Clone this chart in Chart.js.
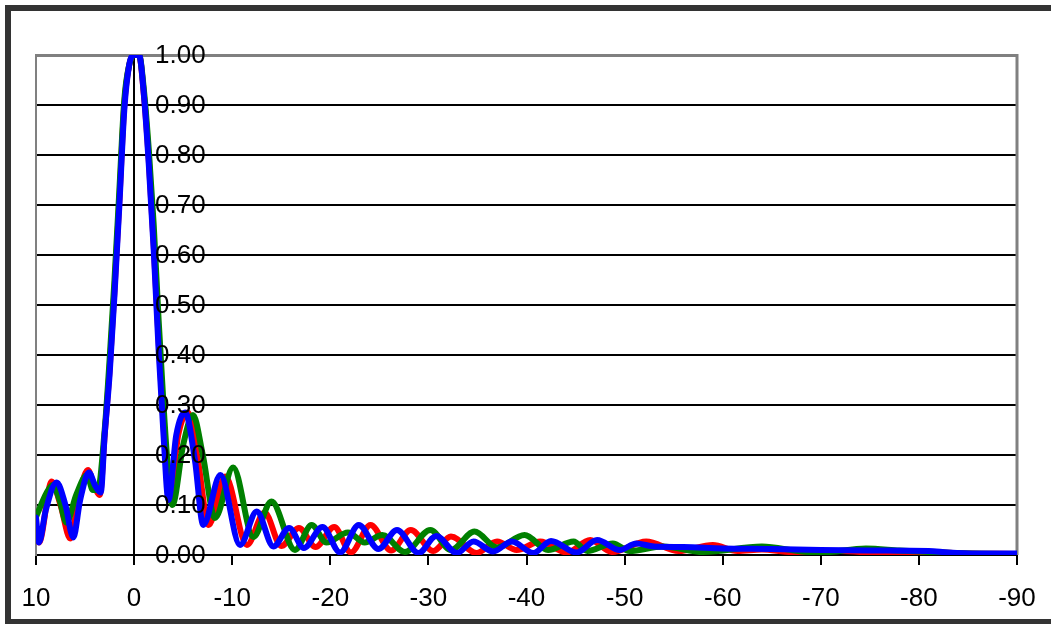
<!DOCTYPE html>
<html>
<head>
<meta charset="utf-8">
<script src="https://cdn.jsdelivr.net/npm/chart.js@4"></script>
<style>
  body { margin: 0; background: #fff; }
  #wrap { position: relative; width: 1051px; height: 624px; }
</style>
</head>
<body>
<div id="wrap"><canvas id="pattern-chart"></canvas></div>
<script>
// tick labels
const xTicks = [10, 0, -10, -20, -30, -40, -50, -60, -70, -80, -90];
const yTicks = [0, 0.1, 0.2, 0.3, 0.4, 0.5, 0.6, 0.7, 0.8, 0.9, 1.0];

// red series (angle, level)
const redX = [10, 9.7, 8.4, 7.5, 6.5, 5.6, 4.7, 4.1, 3.5, 3, 2.5, 2, 1.5, 1, 0.5, 0, -0.5, -1, -1.5, -2, -2.5, -3, -3.6,
  -4.5, -5.5, -6.5, -7.6, -9.3, -11.5, -13.3, -15.0, -16.8, -18.5, -20.4, -22.1, -24.1, -26.2, -28.2, -30.5, -32.3,
  -34.9, -37.0, -39.0, -41.4, -44.1, -46.5, -48.7, -52.2, -55.5, -59, -61.5, -64, -67, -72, -76, -80, -85, -90];
const redY = [0.05, 0.025, 0.147, 0.10, 0.033, 0.12, 0.17, 0.14, 0.12, 0.24, 0.37, 0.53, 0.71, 0.90, 0.98, 1.0, 1.0, 0.92, 0.79, 0.62, 0.43, 0.26, 0.11,
  0.24, 0.285, 0.19, 0.06, 0.157, 0.02, 0.085, 0.018, 0.054, 0.016, 0.056, 0.005, 0.06, 0.009, 0.05, 0.008, 0.037,
  0.004, 0.027, 0.01, 0.027, 0.005, 0.03, 0.006, 0.027, 0.008, 0.02, 0.008, 0.011, 0.006, 0.008, 0.004, 0.006, 0.003, 0.002];

// green series
const greenX = [10, 8.9, 8.3, 7.6, 6.9, 5.9, 4.8, 4.2, 3.7, 3, 2.5, 2, 1.5, 1, 0.5, 0, -0.5, -1, -1.5, -2, -2.5, -3, -3.5, -3.9,
  -5, -6.0, -7, -8.25, -10.1, -12.15, -14.0, -16.4, -18.1, -19.6, -21.8, -23.5, -25.3, -27.6, -30.2, -32.3, -34.7,
  -37.0, -39.8, -42.2, -44.8, -46.2, -48.8, -50.5, -53.9, -58, -64, -68, -70, -74.6, -78, -81, -85, -90];
const greenY = [0.076, 0.125, 0.14, 0.11, 0.065, 0.12, 0.16, 0.13, 0.13, 0.25, 0.39, 0.55, 0.73, 0.91, 0.98, 1.0, 1.0, 0.93, 0.81, 0.66, 0.47, 0.30, 0.16, 0.10,
  0.22, 0.28, 0.20, 0.074, 0.175, 0.036, 0.107, 0.01, 0.06, 0.025, 0.045, 0.025, 0.04, 0.006, 0.05, 0.01, 0.047,
  0.015, 0.04, 0.01, 0.027, 0.008, 0.023, 0.008, 0.017, 0.006, 0.017, 0.007, 0.005, 0.013, 0.009, 0.006, 0.003, 0.002];

// blue series
const blueX = [10, 9.7, 9, 7.9, 7, 6.2, 5.5, 4.6, 4.0, 3.4, 3, 2.5, 2, 1.5, 1, 0.5, 0, -0.5, -1, -1.5, -2, -2.5, -3, -3.5,
  -4.3, -5.2, -6.2, -7.05, -8.8, -10.8, -12.5, -14.2, -15.8, -17.3, -19.2, -21.0, -22.9, -24.9, -26.8, -29.0,
  -30.8, -32.9, -34.6, -36.6, -38.5, -40.7, -42.5, -45.1, -47.2, -49.5, -51.2, -53, -56, -60, -65, -70, -75, -81, -83, -86, -90];
const blueY = [0.075, 0.025, 0.09, 0.145, 0.10, 0.035, 0.11, 0.165, 0.14, 0.125, 0.24, 0.36, 0.52, 0.70, 0.89, 0.98, 1.0, 1.0, 0.92, 0.78, 0.61, 0.41, 0.24, 0.11,
  0.24, 0.285, 0.19, 0.06, 0.16, 0.02, 0.087, 0.017, 0.054, 0.014, 0.056, 0.005, 0.06, 0.012, 0.05, 0.004,
  0.038, 0.004, 0.027, 0.007, 0.027, 0.004, 0.028, 0.005, 0.03, 0.01, 0.023, 0.017, 0.016, 0.013, 0.012, 0.01, 0.009, 0.008, 0.005, 0.003, 0.003];

const toPoints = (xs, ys) => xs.map((x, i) => ({ x: x, y: ys[i] }));

Chart.defaults.font.family = '"Liberation Sans", Arial, sans-serif';
Chart.defaults.color = '#000';

// frame, axis through zero, plot border and value labels
const decorations = {
  id: 'decorations',
  beforeDraw(chart) {
    const ctx = chart.ctx;
    ctx.save();
    ctx.fillStyle = '#fff';
    ctx.fillRect(0, 0, chart.width, chart.height);
    ctx.fillStyle = '#333';
    ctx.fillRect(5, 5, chart.width, 6);
    ctx.fillRect(5, 5, 6, 619);
    ctx.fillRect(5, 619, chart.width, 6);
    ctx.restore();
  },
  beforeDatasetsDraw(chart) {
    const ctx = chart.ctx;
    const area = chart.chartArea;
    const x0 = Math.round(chart.scales.x.getPixelForValue(0));
    ctx.save();
    ctx.strokeStyle = '#000';
    ctx.lineWidth = 2;
    ctx.beginPath();
    ctx.moveTo(x0, area.top);
    ctx.lineTo(x0, area.bottom + 10);
    ctx.stroke();
    ctx.strokeStyle = '#808080';
    ctx.lineWidth = 3;
    ctx.beginPath();
    ctx.moveTo(area.right, area.top - 1);
    ctx.lineTo(area.right, area.bottom);
    ctx.stroke();
    ctx.restore();
  },
  afterDatasetsDraw(chart) {
    const ctx = chart.ctx;
    const x0 = chart.scales.x.getPixelForValue(0);
    ctx.save();
    ctx.fillStyle = '#000';
    ctx.font = '26px "Liberation Sans", Arial, sans-serif';
    ctx.textAlign = 'left';
    ctx.textBaseline = 'middle';
    yTicks.forEach(v => {
      ctx.fillText(v.toFixed(2), x0 + 21, chart.scales.y.getPixelForValue(v) + 1);
    });
    ctx.restore();
  }
};

const ctx = document.getElementById('pattern-chart').getContext('2d');
const chart = new Chart(ctx, {
  type: 'line',
  data: {
    datasets: [
      { label: 'blue', data: toPoints(blueX, blueY), borderColor: '#0000ff', order: 1 },
      { label: 'green', data: toPoints(greenX, greenY), borderColor: '#008000', order: 2 },
      { label: 'red', data: toPoints(redX, redY), borderColor: '#ff0000', order: 3 }
    ]
  },
  options: {
    responsive: true,
    maintainAspectRatio: false,
    animation: false,
    layout: { padding: { left: 36, right: 34, top: 55, bottom: 0 } },
    elements: {
      line: { borderWidth: 6, cubicInterpolationMode: 'monotone', fill: false, borderJoinStyle: 'round', borderCapStyle: 'round' },
      point: { radius: 0 }
    },
    plugins: { legend: { display: false }, tooltip: { enabled: false } },
    scales: {
      x: {
        type: 'linear',
        reverse: true,
        min: -90,
        max: 10,
        afterFit: s => { s.height = 69; s.paddingLeft = 0; s.paddingRight = 0; },
        afterBuildTicks: s => { s.ticks = xTicks.map(v => ({ value: v })); },
        ticks: { font: { size: 26 }, padding: 18, maxRotation: 0, color: '#000' },
        grid: { drawOnChartArea: false, drawTicks: true, tickLength: 10, color: '#000', lineWidth: 2 },
        border: { color: '#000', width: 2 }
      },
      y: {
        min: 0,
        max: 1,
        afterFit: s => { s.width = 0; },
        afterBuildTicks: s => { s.ticks = yTicks.map(v => ({ value: v })); },
        ticks: { display: false },
        grid: {
          drawTicks: false,
          color: c => c.tick && c.tick.value === 1 ? '#808080' : '#000',
          lineWidth: c => c.tick && c.tick.value === 1 ? 3 : 2
        },
        border: { color: '#808080', width: 2 }
      }
    }
  },
  plugins: [decorations]
});
</script>
</body>
</html>
